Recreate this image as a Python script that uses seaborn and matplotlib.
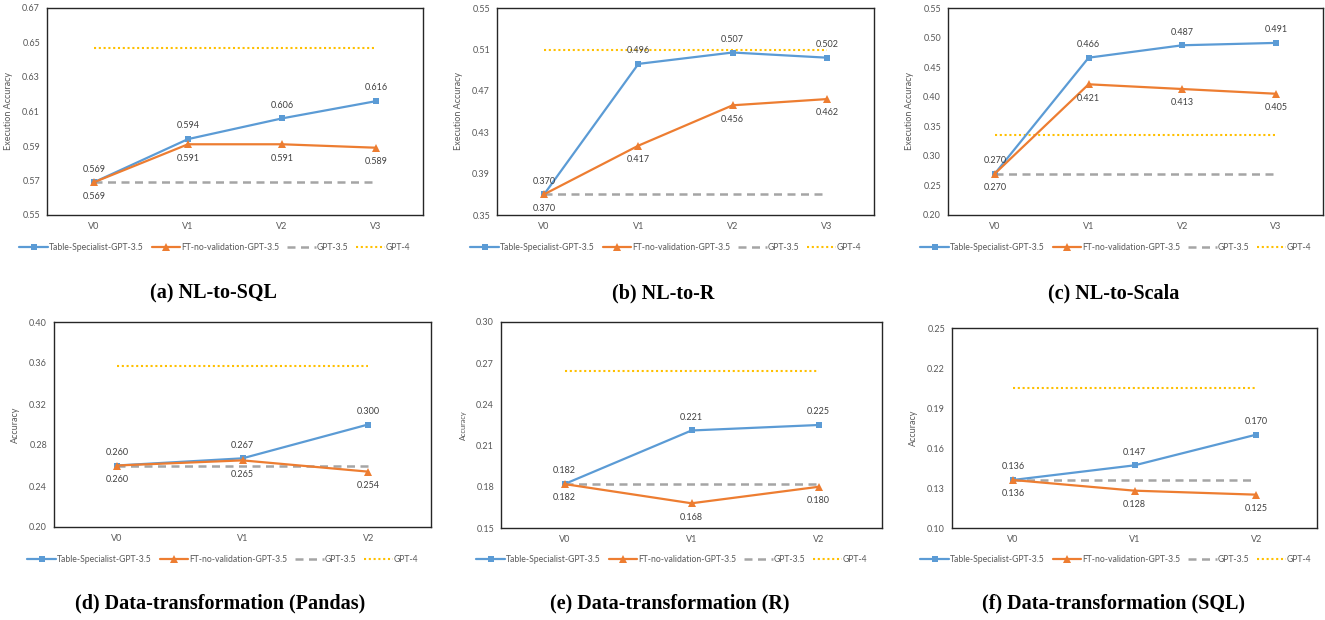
import numpy as np
import matplotlib
matplotlib.use('Agg')
import matplotlib.pyplot as plt
from matplotlib.ticker import FormatStrFormatter
import seaborn as sns

# x categories (model versions)
versions_nl = ['V0', 'V1', 'V2', 'V3']
versions_dt = ['V0', 'V1', 'V2']

# (a) NL-to-SQL
sql_specialist = [0.569, 0.594, 0.606, 0.616]
sql_ft = [0.569, 0.591, 0.591, 0.589]
sql_gpt35 = 0.569
sql_gpt4 = 0.647
sql_yticks = [0.55, 0.57, 0.59, 0.61, 0.63, 0.65, 0.67]

# (b) NL-to-R
r_specialist = [0.370, 0.496, 0.507, 0.502]
r_ft = [0.370, 0.417, 0.456, 0.462]
r_gpt35 = 0.370
r_gpt4 = 0.509
r_yticks = [0.35, 0.39, 0.43, 0.47, 0.51, 0.55]

# (c) NL-to-Scala
scala_specialist = [0.270, 0.466, 0.487, 0.491]
scala_ft = [0.270, 0.421, 0.413, 0.405]
scala_gpt35 = 0.270
scala_gpt4 = 0.336
scala_yticks = [0.20, 0.25, 0.30, 0.35, 0.40, 0.45, 0.50, 0.55]

# (d) Data-transformation (Pandas)
pandas_specialist = [0.260, 0.267, 0.300]
pandas_ft = [0.260, 0.265, 0.254]
pandas_gpt35 = 0.260
pandas_gpt4 = 0.357
pandas_yticks = [0.20, 0.24, 0.28, 0.32, 0.36, 0.40]

# (e) Data-transformation (R)
dtr_specialist = [0.182, 0.221, 0.225]
dtr_ft = [0.182, 0.168, 0.180]
dtr_gpt35 = 0.182
dtr_gpt4 = 0.264
dtr_yticks = [0.15, 0.18, 0.21, 0.24, 0.27, 0.30]

# (f) Data-transformation (SQL)
dtsql_specialist = [0.136, 0.147, 0.170]
dtsql_ft = [0.136, 0.128, 0.125]
dtsql_gpt35 = 0.136
dtsql_gpt4 = 0.205
dtsql_yticks = [0.10, 0.13, 0.16, 0.19, 0.22, 0.25]

series_names = ['Table-Specialist-GPT-3.5', 'FT-no-validation-GPT-3.5', 'GPT-3.5', 'GPT-4']

sns.set_style('white')
plt.rcParams['font.family'] = ['Lato', 'DejaVu Sans']

W, H = 1325, 620
BLUE = '#5B9BD5'
ORANGE = '#ED7D31'
GRAY = '#A5A5A5'
GOLD = '#FFC000'
TEXT = '#595959'

# data, y label, caption, plot box in pixels (x0, y0, x1, y1), legend/caption centre x, y-label size
panels = [
    (versions_nl, sql_specialist, sql_ft, sql_gpt35, sql_gpt4, sql_yticks,
     'Execution Accuracy', '(a) NL-to-SQL', (47, 8, 423, 215), 215, 213, 6.5),
    (versions_nl, r_specialist, r_ft, r_gpt35, r_gpt4, r_yticks,
     'Execution Accuracy', '(b) NL-to-R', (497, 8, 874, 215), 666, 663, 6.5),
    (versions_nl, scala_specialist, scala_ft, scala_gpt35, scala_gpt4, scala_yticks,
     'Execution Accuracy', '(c) NL-to-Scala', (948, 8, 1323, 215), 1116, 1114, 6.5),
    (versions_dt, pandas_specialist, pandas_ft, pandas_gpt35, pandas_gpt4, pandas_yticks,
     'Accuracy', '(d) Data-transformation (Pandas)', (54, 322, 431, 527), 223, 220, 6.5),
    (versions_dt, dtr_specialist, dtr_ft, dtr_gpt35, dtr_gpt4, dtr_yticks,
     'Accuracy', '(e) Data-transformation (R)', (501, 322, 882, 528), 672, 670, 5.3),
    (versions_dt, dtsql_specialist, dtsql_ft, dtsql_gpt35, dtsql_gpt4, dtsql_yticks,
     'Accuracy', '(f) Data-transformation (SQL)', (952, 328, 1317, 528), 1116, 1114, 6.5),
]

fig = plt.figure(figsize=(W / 100, H / 100), dpi=100)

for versions, spec, ft, g35, g4, yticks, ylabel, caption, box, leg_x, cap_x, ylab_size in panels:
    x0, y0, x1, y1 = box
    ax = fig.add_axes([x0 / W, 1 - y1 / H, (x1 - x0) / W, (y1 - y0) / H])
    pos = np.arange(len(versions))

    sns.lineplot(x=pos, y=spec, ax=ax, color=BLUE, linewidth=1.6, marker='s',
                 markersize=5, markeredgewidth=0, label=series_names[0], zorder=4)
    sns.lineplot(x=pos, y=ft, ax=ax, color=ORANGE, linewidth=1.6, marker='^',
                 markersize=5.2, markeredgewidth=0, label=series_names[1], zorder=5)
    sns.lineplot(x=pos, y=[g35] * len(pos), ax=ax, color=GRAY, linewidth=1.8,
                 linestyle=(0, (3.2, 2.2)), label=series_names[2], zorder=2)
    sns.lineplot(x=pos, y=[g4] * len(pos), ax=ax, color=GOLD, linewidth=1.5,
                 linestyle=(0, (1, 1.3)), label=series_names[3], zorder=2)

    # data labels: specialist above, fine-tuned below
    for i in range(len(pos)):
        ax.annotate(f'{spec[i]:.3f}', (pos[i], spec[i]), xytext=(0, 9.5),
                    textcoords='offset points', ha='center', va='center',
                    fontsize=6.5, color='#404040', zorder=6)
        ax.annotate(f'{ft[i]:.3f}', (pos[i], ft[i]), xytext=(0, -10),
                    textcoords='offset points', ha='center', va='center',
                    fontsize=6.5, color='#404040', zorder=6)

    ax.set_xlim(-0.5, len(pos) - 0.5)
    ax.set_xticks(pos, versions)
    ax.set_ylim(yticks[0], yticks[-1])
    ax.set_yticks(yticks)
    ax.yaxis.set_major_formatter(FormatStrFormatter('%.2f'))
    ax.tick_params(length=0, labelsize=6.5, colors=TEXT, pad=5)
    ax.set_xlabel('')
    ax.set_ylabel(ylabel, fontsize=ylab_size, color=TEXT)
    ax.yaxis.set_label_coords(-34 / (x1 - x0), 0.5)
    for sp in ax.spines.values():
        sp.set_visible(True)
        sp.set_color('#262626')
        sp.set_linewidth(1.0)

    leg_y = 248 if y0 < 300 else 560
    ax.legend(loc='center', bbox_to_anchor=(leg_x / W, 1 - leg_y / H),
              bbox_transform=fig.transFigure, ncol=4, frameon=False,
              fontsize=6.2, labelcolor=TEXT, handlelength=3.3, handletextpad=0.15,
              columnspacing=0.9, borderaxespad=0)

    cap_y = 293 if y0 < 300 else 603
    fig.text(cap_x / W, 1 - cap_y / H, caption, ha='center', va='center',
             fontsize=14.5, fontweight='bold', family='Liberation Serif', color='black')

fig.savefig('out.png', dpi=100)
